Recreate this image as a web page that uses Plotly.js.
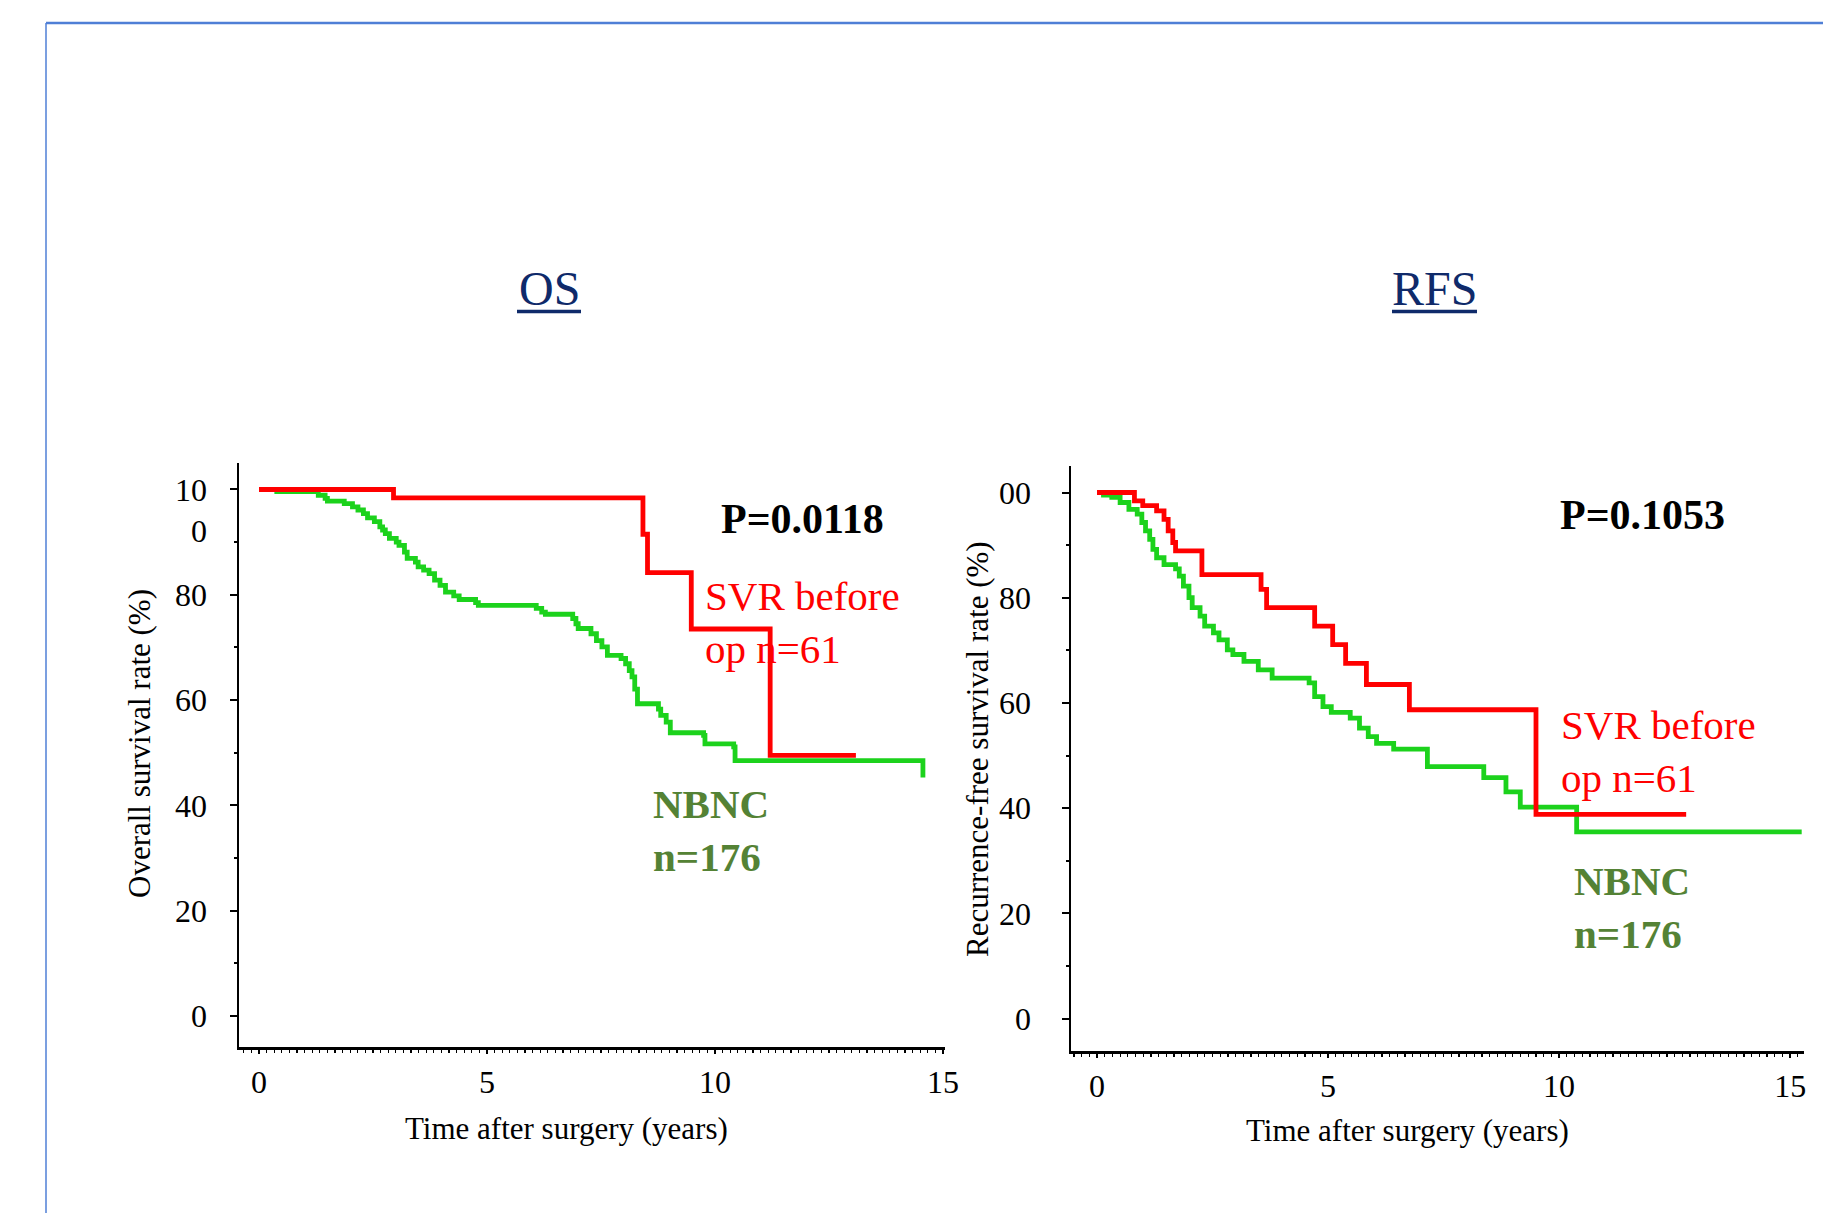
<!DOCTYPE html>
<html>
<head>
<meta charset="utf-8">
<script src="https://cdn.plot.ly/plotly-3.0.1.min.js"></script>
<style>
html,body{margin:0;padding:0;background:#ffffff;}
#chart{width:1823px;height:1213px;}
</style>
</head>
<body>
<div id="chart"></div>
<script>
// ---------------- data ----------------
// Overall survival (OS), years after surgery and survival rate (%)
const osTimeNBNC = [0, 0.39, 1.30, 1.45, 1.50, 1.87, 2.05, 2.17, 2.29, 2.38, 2.53, 2.65, 2.71, 2.77, 2.86, 3.01, 3.07, 3.19, 3.25, 3.43, 3.49, 3.61, 3.73, 3.85, 3.97, 4.09, 4.27, 4.39, 4.75, 4.81, 6.08, 6.20, 6.28, 6.88, 6.95, 7.00, 7.28, 7.40, 7.52, 7.64, 7.94, 8.04, 8.12, 8.18, 8.24, 8.30, 8.76, 8.81, 8.93, 9.02, 9.75, 9.78, 10.41, 10.44, 14.56];
const osSurvNBNC = [100, 99.6, 98.9, 98.3, 97.8, 97.3, 96.7, 96.1, 95.4, 94.6, 93.9, 92.9, 92.3, 91.6, 90.7, 90.0, 89.4, 88.1, 86.9, 86.2, 85.3, 84.7, 84.0, 82.8, 81.8, 80.5, 79.8, 79.1, 78.5, 78.0, 77.4, 76.7, 76.3, 75.5, 74.5, 73.6, 72.6, 71.3, 70.1, 68.5, 67.9, 66.9, 65.6, 64.4, 62.1, 59.3, 58.3, 57.1, 55.8, 53.8, 53.3, 51.7, 51.1, 48.5, 45.3];
const osTimeSVR = [0, 2.95, 8.42, 8.52, 9.48, 11.21, 13.09];
const osSurvSVR = [100, 98.4, 91.5, 84.2, 73.5, 49.5, 49.5];

// Recurrence-free survival (RFS)
const rfsTimeNBNC = [0, 0.14, 0.32, 0.50, 0.69, 0.87, 0.97, 1.05, 1.14, 1.21, 1.29, 1.45, 1.70, 1.78, 1.87, 1.99, 2.06, 2.23, 2.33, 2.52, 2.64, 2.82, 2.94, 3.18, 3.49, 3.79, 4.59, 4.71, 4.89, 5.07, 5.48, 5.68, 5.87, 6.05, 6.42, 7.15, 8.37, 8.85, 9.16, 10.38, 15.25];
const rfsSurvNBNC = [100, 99.5, 99.1, 98.1, 96.8, 95.9, 94.3, 92.7, 91.1, 89.2, 87.6, 86.3, 85.5, 84.1, 82.2, 80.0, 78.1, 76.5, 74.6, 73.3, 72.0, 70.1, 69.2, 67.9, 66.3, 64.7, 63.8, 61.2, 59.3, 58.2, 57.1, 55.2, 53.6, 52.3, 51.2, 47.9, 45.8, 43.1, 40.2, 35.5, 35.5];
const rfsTimeSVR = [0, 0.81, 0.99, 1.29, 1.45, 1.54, 1.64, 1.70, 2.27, 3.55, 3.67, 4.71, 5.10, 5.38, 5.83, 6.76, 9.50, 12.75];
const rfsSurvSVR = [100, 98.4, 97.5, 96.5, 94.9, 92.7, 90.5, 88.9, 84.4, 81.6, 78.1, 74.6, 71.1, 67.5, 63.5, 58.7, 38.8, 38.8];

// ticks and labels
const xTickVals = [0, 5, 10, 15];
const xTickText = ['0', '5', '10', '15'];
const yTickVals = [0, 20, 40, 60, 80, 100];
const osYTickText = ['0', '20', '40', '60', '80', '<br>10<br>0'];
const rfsYTickText = ['0', '20', '40', '60', '80', '00'];

const panelTitles = ['OS', 'RFS'];
const pValues = ['P=0.0118', 'P=0.1053'];
const svrLabel = 'SVR before<br>op n=61';
const nbncLabel = 'NBNC<br>n=176';
const xTitle = 'Time after surgery (years)';
const osYTitle = 'Overall survival rate (%)';
const rfsYTitle = 'Recurrence-free survival rate (%)';

// ---------------- layout helpers ----------------
const W = 1823, H = 1213;
const px = x => x / W;
const py = y => 1 - y / H;
const SERIF = 'Liberation Serif, Times New Roman, serif';
const RED = '#ff0000';
const GREEN = '#1cd21c';
const GREEN_TXT = '#548235';
const NAVY = '#0f2a6a';

const traces = [
  {x: osTimeNBNC, y: osSurvNBNC, xaxis: 'x', yaxis: 'y', mode: 'lines',
   line: {shape: 'hv', color: GREEN, width: 4.8}, hoverinfo: 'skip'},
  {x: osTimeSVR, y: osSurvSVR, xaxis: 'x', yaxis: 'y', mode: 'lines',
   line: {shape: 'hv', color: RED, width: 4.8}, hoverinfo: 'skip'},
  {x: rfsTimeNBNC, y: rfsSurvNBNC, xaxis: 'x2', yaxis: 'y2', mode: 'lines',
   line: {shape: 'hv', color: GREEN, width: 4.8}, hoverinfo: 'skip'},
  {x: rfsTimeSVR, y: rfsSurvSVR, xaxis: 'x2', yaxis: 'y2', mode: 'lines',
   line: {shape: 'hv', color: RED, width: 4.8}, hoverinfo: 'skip'}
];

function xAxis(domain, range, anchor) {
  return {
    domain: domain, range: range, anchor: anchor,
    showline: true, linecolor: '#000', linewidth: 3,
    showgrid: false, zeroline: false,
    ticks: 'outside', tickmode: 'array', tickvals: xTickVals, ticktext: xTickText,
    ticklen: 4, tickwidth: 1.5, tickcolor: '#000',
    minor: {tickmode: 'linear', tick0: 0, dtick: 1/6, ticks: 'outside', ticklen: 3, tickwidth: 1.2, tickcolor: '#000', showgrid: false},
    tickfont: {family: SERIF, size: 32, color: '#000'},
    ticklabelstandoff: 1,
    fixedrange: true
  };
}
function yAxis(domain, range, anchor, ticktext, standoff) {
  return {
    domain: domain, range: range, anchor: anchor,
    showline: true, linecolor: '#000', linewidth: 2.5,
    showgrid: false, zeroline: false,
    ticks: 'outside', tickmode: 'array', tickvals: yTickVals, ticktext: ticktext,
    ticklen: 7, tickwidth: 2, tickcolor: '#000',
    minor: {tickmode: 'linear', tick0: 0, dtick: 10, ticks: 'outside', ticklen: 3, tickwidth: 2, tickcolor: '#000', showgrid: false},
    tickfont: {family: SERIF, size: 32, color: '#000'},
    ticklabelstandoff: standoff,
    fixedrange: true
  };
}

function ann(text, x, y, opts) {
  return Object.assign({
    text: text, xref: 'paper', yref: 'paper', x: px(x), y: py(y),
    xanchor: 'center', yanchor: 'middle', showarrow: false,
    font: {family: SERIF, size: 42, color: '#000'}
  }, opts || {});
}

const annotations = [
  ann(panelTitles[0], 549, 288, {font: {family: SERIF, size: 48, color: NAVY}}),
  ann(panelTitles[1], 1434, 288, {font: {family: SERIF, size: 48, color: NAVY}}),
  ann(pValues[0], 802, 519, {font: {family: SERIF, size: 42, color: '#000', weight: 'bold'}}),
  ann(pValues[1], 1642, 515, {font: {family: SERIF, size: 42, color: '#000', weight: 'bold'}}),
  ann(svrLabel, 703, 622, {xanchor: 'left', align: 'left', font: {family: SERIF, size: 41, color: RED}}),
  ann(svrLabel, 1559, 751, {xanchor: 'left', align: 'left', font: {family: SERIF, size: 41, color: RED}}),
  ann(nbncLabel, 651, 830, {xanchor: 'left', align: 'left', font: {family: SERIF, size: 41, color: GREEN_TXT, weight: 'bold'}}),
  ann(nbncLabel, 1572, 908, {xanchor: 'left', align: 'left', font: {family: SERIF, size: 41, color: GREEN_TXT, weight: 'bold'}}),
  ann(xTitle, 566, 1128, {font: {family: SERIF, size: 31, color: '#000'}}),
  ann(xTitle, 1407, 1130, {font: {family: SERIF, size: 31, color: '#000'}}),
  ann(osYTitle, 139, 744, {textangle: -90, font: {family: SERIF, size: 31, color: '#000'}}),
  ann(rfsYTitle, 977, 749, {textangle: -90, font: {family: SERIF, size: 31, color: '#000'}})
];

const shapes = [
  // slide frame
  {type: 'line', xref: 'paper', yref: 'paper', x0: px(46), x1: 1, y0: py(23), y1: py(23), line: {color: '#4f7fd6', width: 2.5}},
  {type: 'line', xref: 'paper', yref: 'paper', x0: px(46), x1: px(46), y0: py(23), y1: 0, line: {color: '#4f7fd6', width: 1.5}},
  // title underlines
  {type: 'line', xref: 'paper', yref: 'paper', x0: px(517), x1: px(581), y0: py(311.5), y1: py(311.5), line: {color: NAVY, width: 3.5}},
  {type: 'line', xref: 'paper', yref: 'paper', x0: px(1392), x1: px(1477), y0: py(311.5), y1: py(311.5), line: {color: NAVY, width: 3.5}}
];

const layout = {
  width: W, height: H,
  margin: {l: 0, r: 0, t: 0, b: 0, pad: 0},
  paper_bgcolor: '#ffffff', plot_bgcolor: '#ffffff',
  showlegend: false,
  xaxis: xAxis([px(239), px(945)], [-0.4386, 15.044], 'y'),
  yaxis: yAxis([py(1047), py(463)], [-5.89, 105.03], 'x', osYTickText, 16),
  xaxis2: xAxis([px(1071), px(1804)], [-0.563, 15.30], 'y2'),
  yaxis2: yAxis([py(1050.5), py(466)], [-6.08, 105.04], 'x2', rfsYTickText, 24),
  annotations: annotations,
  shapes: shapes
};

Plotly.newPlot('chart', traces, layout, {staticPlot: true, displayModeBar: false});
</script>
</body>
</html>
